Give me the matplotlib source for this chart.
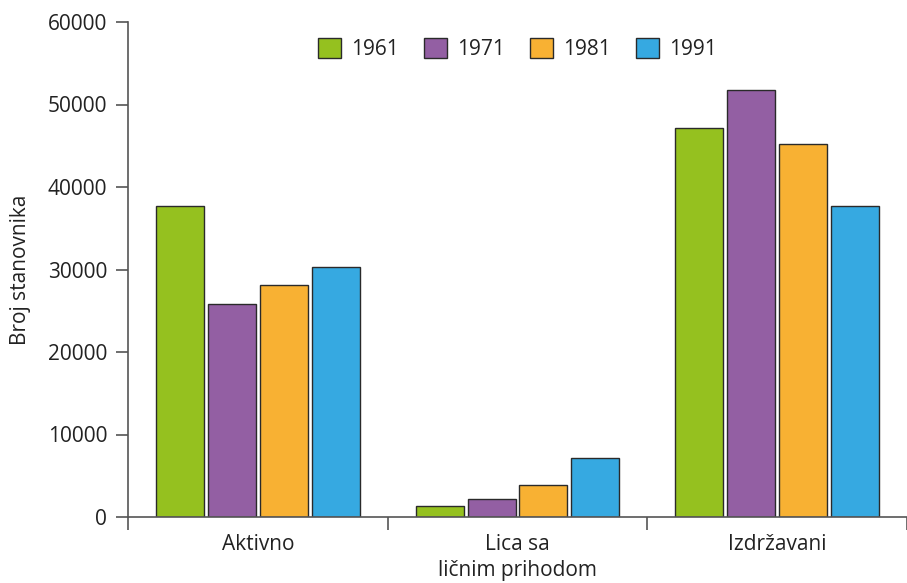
import matplotlib
matplotlib.use("Agg")
import matplotlib.pyplot as plt
import numpy as np

categories = ["Aktivno", "Lica sa\nličnim prihodom", "Izdržavani"]
years = ["1961", "1971", "1981", "1991"]
v1961 = [37700, 1300, 47100]
v1971 = [25800, 2200, 51700]
v1981 = [28100, 3900, 45200]
v1991 = [30300, 7150, 37700]
series = [v1961, v1971, v1981, v1991]
colors = ["#95C11F", "#935FA3", "#F8B133", "#36A9E1"]
yticks = [0, 10000, 20000, 30000, 40000, 50000, 60000]

plt.rcParams['font.family'] = ['Open Sans', 'DejaVu Sans']
fig = plt.figure(figsize=(9.07, 5.83), dpi=100)
ax = fig.add_axes([128/907, 1-517/583, 1-128/907, (517-22)/583])

x = np.arange(len(categories))
w = 0.185
pitch = 0.2
for i, (vals, c, lab) in enumerate(zip(series, colors, years)):
    ax.bar(x + (i - 1.5) * pitch, vals, width=w, color=c, edgecolor="#2a2a2a",
           linewidth=1.0, label=lab)

fs = 15
ax.set_xlim(-0.5, 2.5)
ax.set_ylim(0, 60000)
ax.set_yticks(yticks)
ax.set_yticklabels([str(t) for t in yticks], fontsize=fs, color="#222222")
ax.set_xticks(x)
ax.set_xticklabels(categories, fontsize=fs, color="#222222", linespacing=1.35)
ax.set_xticks([-0.5, 0.5, 1.5, 2.5], minor=True)
ax.tick_params(axis='x', which='major', length=0, pad=12)
ax.tick_params(axis='x', which='minor', length=9, width=1.2, color="#555555", direction='out')
ax.tick_params(axis='y', length=9, width=1.2, color="#555555", pad=6)

for s in ["top", "right"]:
    ax.spines[s].set_visible(False)
for s in ["left", "bottom"]:
    ax.spines[s].set_color("#555555")
    ax.spines[s].set_linewidth(1.2)

ax.set_ylabel("Broj stanovnika", fontsize=fs, color="#222222", labelpad=12)

leg = ax.legend(loc="upper center", bbox_to_anchor=(0.5, 1.005), ncol=4, frameon=False,
                fontsize=fs, handlelength=1.1, handleheight=1.1, columnspacing=1.2,
                handletextpad=0.5)
for t in leg.get_texts():
    t.set_color("#222222")

fig.savefig("out.png", dpi=100)
